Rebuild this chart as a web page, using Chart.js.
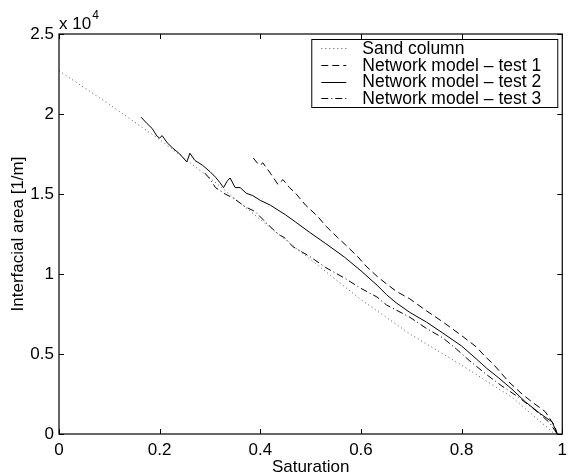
<!DOCTYPE html>
<html>
<head>
<meta charset="utf-8">
<script src="https://cdn.jsdelivr.net/npm/chart.js@4.4.1/dist/chart.umd.min.js"></script>
<style>
  html, body { margin: 0; padding: 0; background: #fff; }
</style>
</head>
<body>
<canvas id="chart" width="573" height="476"></canvas>
<script>
// --- DATA ---
const FONT = "'Liberation Sans', Arial, Helvetica, sans-serif";

const legendLabels = ['Sand column', 'Network model \u2013 test 1', 'Network model \u2013 test 2', 'Network model \u2013 test 3'];

const xTicks = [0, 0.2, 0.4, 0.6, 0.8, 1];
const yTicks = [0, 5000, 10000, 15000, 20000, 25000];

// sand column (dotted)
const satSand  = [0, 0.1, 0.2, 0.3, 0.4, 0.5, 0.6, 0.7, 0.8, 0.9, 0.985];
const areaSand = [22700, 20600, 18400, 16000, 13400, 10900, 8400, 6200, 4300, 2300, 0];

// network model test 1 (dashed)
const satTest1  = [0.386, 0.395, 0.400, 0.405, 0.420, 0.435, 0.445, 0.458, 0.470, 0.490, 0.514, 0.530, 0.553, 0.570, 0.593, 0.610, 0.632, 0.650, 0.671, 0.697, 0.730, 0.763, 0.800, 0.829, 0.848, 0.862, 0.894, 0.920, 0.940, 0.966, 0.985, 0.990];
const areaTest1 = [17250, 16900, 16800, 16950, 16300, 15600, 15900, 15400, 15050, 14300, 13600, 13000, 12300, 11800, 11100, 10500, 9850, 9400, 8900, 8450, 7700, 7000, 6150, 5450, 4800, 4400, 3250, 2500, 2000, 1400, 500, 0];

// network model test 2 (solid)
const satTest2  = [0.163, 0.175, 0.185, 0.195, 0.200, 0.205, 0.215, 0.225, 0.240, 0.254, 0.260, 0.270, 0.285, 0.300, 0.311, 0.320, 0.327, 0.334, 0.340, 0.350, 0.360, 0.372, 0.385, 0.400, 0.420, 0.435, 0.450, 0.470, 0.500, 0.530, 0.567, 0.600, 0.632, 0.651, 0.670, 0.697, 0.730, 0.763, 0.800, 0.829, 0.850, 0.874, 0.900, 0.927, 0.955, 0.980, 0.990];
const areaTest2 = [19800, 19400, 19100, 18600, 18500, 18650, 18200, 17900, 17500, 17000, 17550, 17100, 16800, 16400, 16050, 15700, 15400, 15800, 16000, 15400, 15400, 15050, 14900, 14600, 14300, 14000, 13700, 13250, 12560, 11900, 11060, 10200, 9300, 8700, 8200, 7600, 7000, 6300, 5500, 4700, 4100, 3500, 2800, 2000, 1300, 750, 0];

// network model test 3 (dash-dot)
const satTest3  = [0.290, 0.297, 0.311, 0.330, 0.346, 0.370, 0.390, 0.410, 0.435, 0.449, 0.465, 0.500, 0.530, 0.567, 0.600, 0.632, 0.651, 0.697, 0.730, 0.763, 0.790, 0.815, 0.850, 0.880, 0.913, 0.950, 0.975, 0.990];
const areaTest3 = [16300, 16050, 15400, 15000, 14750, 14200, 13900, 13250, 12500, 12250, 11700, 11060, 10400, 9750, 9100, 8560, 8060, 7300, 6600, 6000, 5300, 4600, 3700, 3000, 2300, 1400, 700, 0];

function toPoints(xs, ys) {
    return xs.map((v, i) => ({ x: v, y: ys[i] }));
}

// --- STYLES ---
const seriesStyles = [
    { color: '#555', dash: [1, 3], width: 1 },
    { color: '#000', dash: [7, 4], width: 1 },
    { color: '#000', dash: [], width: 1 },
    { color: '#000', dash: [7, 3, 1, 3], width: 1 }
];

// frame, inward ticks, legend box and the exponent label
const decorPlugin = {
    id: 'decor',
    afterDraw(chart) {
        const { ctx, chartArea: a, scales: { x, y } } = chart;
        ctx.save();
        ctx.strokeStyle = '#000';
        ctx.lineWidth = 1.2;
        ctx.strokeRect(a.left, a.top, a.right - a.left, a.bottom - a.top);

        const tl = 5;
        ctx.lineWidth = 1;
        ctx.beginPath();
        xTicks.forEach(v => {
            const px = Math.round(x.getPixelForValue(v)) + 0.5;
            ctx.moveTo(px, a.bottom); ctx.lineTo(px, a.bottom - tl);
            ctx.moveTo(px, a.top); ctx.lineTo(px, a.top + tl);
        });
        yTicks.forEach(v => {
            const py = Math.round(y.getPixelForValue(v)) + 0.5;
            ctx.moveTo(a.left, py); ctx.lineTo(a.left + tl, py);
            ctx.moveTo(a.right, py); ctx.lineTo(a.right - tl, py);
        });
        ctx.stroke();

        // legend
        const bx = a.right - 251, by = a.top + 5, bw = 246, bh = 68;
        ctx.fillStyle = '#fff';
        ctx.fillRect(bx, by, bw, bh);
        ctx.lineWidth = 1;
        ctx.strokeRect(bx + 0.5, by + 0.5, bw, bh);
        ctx.font = '17.5px ' + FONT;
        ctx.textBaseline = 'middle';
        ctx.textAlign = 'left';
        legendLabels.forEach((label, i) => {
            const ry = by + 9 + i * 16.8;
            const s = seriesStyles[i];
            ctx.strokeStyle = s.color;
            ctx.lineWidth = s.width;
            ctx.setLineDash(s.dash);
            ctx.beginPath();
            ctx.moveTo(bx + 10, Math.round(ry) + 0.5);
            ctx.lineTo(bx + 35, Math.round(ry) + 0.5);
            ctx.stroke();
            ctx.setLineDash([]);
            ctx.fillStyle = '#000';
            ctx.fillText(label, bx + 51, ry + 1);
        });

        // x 10^4
        ctx.fillStyle = '#000';
        ctx.font = '17px ' + FONT;
        ctx.textBaseline = 'alphabetic';
        ctx.fillText('x 10', a.left, a.top - 5);
        const w = ctx.measureText('x 10').width;
        ctx.font = '12px ' + FONT;
        ctx.fillText('4', a.left + w + 1, a.top - 15);
        ctx.restore();
    }
};

const datasets = [
    toPoints(satSand, areaSand),
    toPoints(satTest1, areaTest1),
    toPoints(satTest2, areaTest2),
    toPoints(satTest3, areaTest3)
].map((pts, i) => ({
    label: legendLabels[i],
    data: pts,
    showLine: true,
    borderColor: seriesStyles[i].color,
    borderWidth: seriesStyles[i].width,
    borderDash: seriesStyles[i].dash,
    pointRadius: 0,
    tension: 0,
    fill: false
}));

new Chart(document.getElementById('chart').getContext('2d'), {
    type: 'scatter',
    data: { datasets },
    options: {
        responsive: false,
        animation: false,
        layout: { padding: { top: 34, right: 6, left: 0, bottom: 0 } },
        plugins: {
            legend: { display: false },
            tooltip: { enabled: false }
        },
        scales: {
            x: {
                type: 'linear',
                min: 0,
                max: 1,
                afterFit: (s) => { s.height = 42; },
                afterBuildTicks: (s) => { s.ticks = xTicks.map(v => ({ value: v })); },
                grid: { display: false, drawTicks: false },
                border: { display: false },
                ticks: {
                    padding: 6,
                    color: '#000',
                    font: { family: FONT, size: 17 },
                    maxRotation: 0,
                    callback: (v) => String(Number(v.toFixed(1)))
                },
                title: {
                    display: true,
                    text: 'Saturation',
                    color: '#000',
                    font: { family: FONT, size: 17, lineHeight: 1 },
                    padding: { top: 0, bottom: 0 }
                }
            },
            y: {
                type: 'linear',
                min: 0,
                max: 25000,
                afterFit: (s) => { s.width = 59; },
                afterBuildTicks: (s) => { s.ticks = yTicks.map(v => ({ value: v })); },
                grid: { display: false, drawTicks: false },
                border: { display: false },
                ticks: {
                    padding: 5,
                    color: '#000',
                    font: { family: FONT, size: 17 },
                    callback: (v) => String(v / 10000)
                },
                title: {
                    display: true,
                    text: 'Interfacial area [1/m]',
                    color: '#000',
                    font: { family: FONT, size: 17, lineHeight: 1 },
                    padding: { top: 10, bottom: 0 }
                }
            }
        }
    },
    plugins: [decorPlugin]
});
</script>
</body>
</html>
